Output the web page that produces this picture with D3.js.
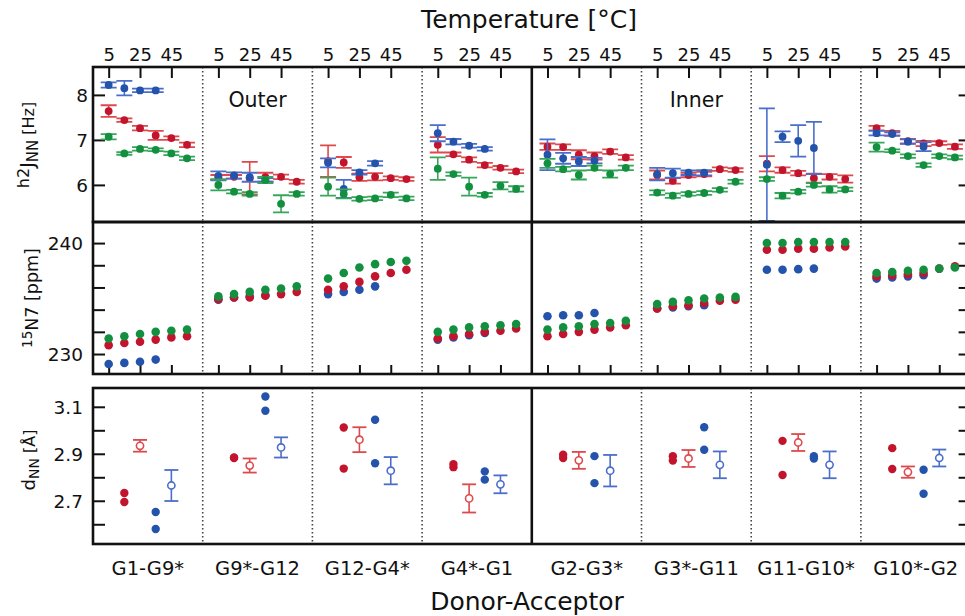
<!DOCTYPE html>
<html>
<head>
<meta charset="utf-8">
<script src="https://cdn.jsdelivr.net/npm/d3@7"></script>
<style>
  body { margin: 0; background: #fff; }
  svg { font-family: "DejaVu Sans", sans-serif; display: block; }
</style>
</head>
<body>
<script>
// ---- data ----
var groups = ["G1-G9*", "G9*-G12", "G12-G4*", "G4*-G1", "G2-G3*", "G3*-G11", "G11-G10*", "G10*-G2"];
var temps = [5, 15, 25, 35, 45, 55];
var tempTicks = [5, 25, 45];

// h2J_NN [Hz]
var jBlue = [[8.22, 8.15, 8.10, 8.10], [6.20, 6.21, 6.17, 6.11], [6.49, 5.91, 6.28, 6.48], [7.15, 6.96, 6.87, 6.80],
             [6.67, 6.59, 6.52, 6.54], [6.24, 6.26, 6.27, 6.27], [6.45, 7.07, 6.98, 6.82], [7.15, 7.13, 6.96, 6.85]];
var jBlueErr = [[0.06, 0.16, 0.04, 0.04], [0.10, 0.07, 0.10, 0.04], [0.10, 0.20, 0.05, 0.05], [0.18, 0.06, 0.04, 0.04],
                [0.34, 0.12, 0.10, 0.06], [0.14, 0.10, 0.05, 0.06], [1.25, 0.12, 0.35, 0.58], [0.05, 0.04, 0.05, 0.10]];
var jRed = [[7.64, 7.44, 7.26, 7.10, 7.04, 6.89], [6.17, 6.18, 6.15, 6.17, 6.18, 6.07], [6.53, 6.50, 6.17, 6.18, 6.15, 6.13],
            [6.89, 6.68, 6.56, 6.44, 6.38, 6.30], [6.85, 6.84, 6.67, 6.64, 6.74, 6.61], [6.22, 6.09, 6.22, 6.24, 6.35, 6.33],
            [6.47, 6.33, 6.26, 6.15, 6.18, 6.13], [7.26, 7.15, 6.97, 6.92, 6.93, 6.85]];
var jRedErr = [[0.13, 0.04, 0.05, 0.10, 0.04, 0.05], [0.05, 0.04, 0.36, 0.10, 0.05, 0.04], [0.35, 0.12, 0.08, 0.08, 0.04, 0.04],
               [0.17, 0.04, 0.05, 0.05, 0.04, 0.04], [0.07, 0.06, 0.10, 0.08, 0.05, 0.05], [0.10, 0.06, 0.05, 0.05, 0.04, 0.04],
               [0.17, 0.06, 0.05, 0.10, 0.06, 0.08], [0.05, 0.05, 0.05, 0.06, 0.04, 0.05]];
var jGreen = [[7.07, 6.70, 6.80, 6.78, 6.70, 6.59], [6.00, 5.85, 5.80, 6.11, 5.58, 5.80], [5.96, 5.80, 5.69, 5.70, 5.78, 5.70],
              [6.36, 6.24, 5.96, 5.78, 5.98, 5.91], [6.48, 6.35, 6.22, 6.38, 6.24, 6.38], [5.83, 5.76, 5.80, 5.82, 5.89, 6.07],
              [6.13, 5.76, 5.85, 6.00, 5.90, 5.90], [6.84, 6.76, 6.64, 6.44, 6.64, 6.61]];
var jGreenErr = [[0.06, 0.03, 0.04, 0.03, 0.04, 0.04], [0.12, 0.04, 0.04, 0.07, 0.19, 0.04], [0.20, 0.10, 0.04, 0.04, 0.05, 0.04],
                 [0.25, 0.04, 0.20, 0.04, 0.08, 0.06], [0.10, 0.05, 0.10, 0.05, 0.08, 0.05], [0.05, 0.05, 0.04, 0.04, 0.04, 0.04],
                 [0.04, 0.06, 0.04, 0.04, 0.07, 0.04], [0.10, 0.03, 0.04, 0.04, 0.04, 0.04]];

// 15N7 [ppm]
var nBlue = [[229.1, 229.2, 229.3, 229.5], [234.9, 235.1, 235.2, 235.3], [235.4, 235.6, 235.8, 236.1], [231.3, 231.5, 231.7, 231.9],
             [233.4, 233.5, 233.5, 233.7], [234.1, 234.2, 234.3, 234.4], [237.6, 237.6, 237.65, 237.7], [236.8, 236.9, 237.0, 237.1]];
var nRed = [[230.8, 231.0, 231.1, 231.3, 231.5, 231.6], [234.95, 235.1, 235.1, 235.25, 235.4, 235.6], [235.8, 236.1, 236.5, 237.0, 237.3, 237.6],
            [231.4, 231.6, 231.8, 232.0, 232.1, 232.3], [231.6, 231.8, 232.0, 232.2, 232.4, 232.6], [234.1, 234.3, 234.4, 234.6, 234.8, 234.9],
            [239.4, 239.4, 239.5, 239.5, 239.6, 239.7], [237.0, 237.1, 237.2, 237.3, 237.7, 237.9]];
var nGreen = [[231.4, 231.6, 231.8, 232.0, 232.1, 232.2], [235.2, 235.4, 235.6, 235.8, 235.9, 236.1], [236.8, 237.3, 237.8, 238.1, 238.3, 238.4],
              [232.0, 232.2, 232.4, 232.5, 232.6, 232.7], [232.2, 232.4, 232.5, 232.7, 232.8, 233.0], [234.5, 234.7, 234.85, 235.0, 235.1, 235.15],
              [240.0, 240.0, 240.1, 240.1, 240.1, 240.1], [237.3, 237.4, 237.5, 237.6, 237.7, 237.8]];

// d_NN [Å]
var dRedFilled = [[2.733, 2.695], [2.884, 2.882], [3.012, 2.837], [2.856, 2.843], [2.896, 2.882], [2.890, 2.871], [2.955, 2.810], [2.924, 2.835]];
var dRedMean = [2.934, 2.850, 2.960, 2.710, 2.872, 2.880, 2.948, 2.822];
var dRedErr = [0.025, 0.030, 0.053, 0.060, 0.036, 0.036, 0.036, 0.024];
var dBlueFilled = [[2.652, 2.580], [3.144, 3.083], [3.045, 2.860], [2.825, 2.790], [2.890, 2.775], [3.013, 2.917], [2.890, 2.880], [2.832, 2.730]];
var dBlueMean = [2.765, 2.927, 2.828, 2.770, 2.828, 2.853, 2.853, 2.882];
var dBlueErr = [0.066, 0.043, 0.058, 0.038, 0.067, 0.057, 0.057, 0.036];

// ---- layout ----
var width = 965, height = 616;
var left = 93, groupW = 109.7, right = left + groups.length * groupW;
var topP = { y0: 67, y1: 222 }, midP = { y0: 222, y1: 374 }, botP = { y0: 388, y1: 544 };

var col = {
    blue: "#2453ab", blueErr: "#4b6ecb",
    red: "#c3142e", redErr: "#dc4a4d",
    green: "#12903f", greenErr: "#36a65b"
};

var svg = d3.select("body").append("svg")
    .attr("width", width)
    .attr("height", height);

var xGroup = d3.scaleBand().domain(groups).range([left, right]);
var xTemp = d3.scaleLinear().domain([-5, 65]).range([0, xGroup.bandwidth()]);
function gx(gi, t) { return xGroup(groups[gi]) + xTemp(t); }

var yJ = d3.scaleLinear().domain([5.176, 8.62]).range([topP.y1, topP.y0]);
var yN = d3.scaleLinear().domain([228.2, 241.9]).range([midP.y1, midP.y0]);
var yD = d3.scaleLinear().domain([2.516, 3.18]).range([botP.y1, botP.y0]);

// clip for the coupling panel (one error bar runs off the bottom)
svg.append("clipPath").attr("id", "topclip").append("rect")
    .attr("x", left).attr("y", topP.y0).attr("width", right - left).attr("height", topP.y1 - topP.y0);

// group separators
[topP, midP, botP].forEach(function(p) {
    groups.forEach(function(g, i) {
        if (i === 0) return;
        var x = xGroup(g);
        svg.append("line")
            .attr("x1", x).attr("x2", x)
            .attr("y1", p.y0).attr("y2", p.y1)
            .attr("stroke", i === 4 ? "#111" : "#444")
            .attr("stroke-width", i === 4 ? 2.6 : 1.6)
            .attr("stroke-dasharray", i === 4 ? null : "1.6,2.4");
    });
});

// y axes, ticks pointing inward on both sides
function yAxes(scale, ticks, labels, fmt, labelX) {
    var ax = svg.append("g")
        .attr("transform", "translate(" + left + ",0)")
        .call(d3.axisLeft(scale).tickValues(ticks).tickSizeInner(-12).tickSizeOuter(0)
            .tickPadding(0).tickFormat(function(d) { return labels.indexOf(d) >= 0 ? fmt(d) : ""; }));
    ax.select(".domain").remove();
    ax.selectAll(".tick line").attr("stroke", "#111").attr("stroke-width", 2);
    ax.selectAll(".tick text")
        .attr("x", labelX - left)
        .attr("dy", "0.36em")
        .attr("fill", "#111")
        .style("font-size", "18.5px")
        .style("font-family", "DejaVu Sans");
    var ax2 = svg.append("g")
        .attr("transform", "translate(" + right + ",0)")
        .call(d3.axisLeft(scale).tickValues(ticks).tickSizeInner(12).tickSizeOuter(0).tickFormat(""));
    ax2.select(".domain").remove();
    ax2.selectAll(".tick line").attr("stroke", "#111").attr("stroke-width", 2);
}
yAxes(yJ, [6, 7, 8], [6, 7, 8], d3.format("d"), 88);
yAxes(yN, [230, 232, 234, 236, 238, 240], [230, 240], d3.format("d"), 83);
yAxes(yD, [2.6, 2.7, 2.8, 2.9, 3.0, 3.1], [2.7, 2.9, 3.1], d3.format(".1f"), 83);

// temperature ticks: top of first panel (labelled), bottom of second panel
groups.forEach(function(g, i) {
    var sub = d3.scaleLinear().domain(xTemp.domain()).range([xGroup(g), xGroup(g) + xGroup.bandwidth()]);
    var at = svg.append("g")
        .attr("transform", "translate(0," + topP.y0 + ")")
        .call(d3.axisTop(sub).tickValues(tempTicks).tickSizeInner(-11).tickSizeOuter(0).tickPadding(6));
    at.select(".domain").remove();
    at.selectAll(".tick line").attr("stroke", "#111").attr("stroke-width", 2);
    at.selectAll(".tick text")
        .attr("y", -6)
        .attr("fill", "#111")
        .style("font-size", "18px")
        .style("font-family", "DejaVu Sans");
    var ab = svg.append("g")
        .attr("transform", "translate(0," + midP.y1 + ")")
        .call(d3.axisBottom(sub).tickValues(tempTicks).tickSizeInner(-9).tickSizeOuter(0).tickFormat(""));
    ab.select(".domain").remove();
    ab.selectAll(".tick line").attr("stroke", "#111").attr("stroke-width", 2);
});

// error bars + dots for the temperature series
function series(data, errs, yScale, dot, errCol, r, cap, clip) {
    var g = svg.append("g");
    if (clip) g.attr("clip-path", "url(#" + clip + ")");
    data.forEach(function(vals, gi) {
        vals.forEach(function(v, k) {
            var x = gx(gi, temps[k]);
            if (errs) {
                var e = errs[gi][k];
                var y1 = yScale(v - e), y2 = yScale(v + e);
                g.append("line").attr("x1", x).attr("x2", x).attr("y1", y1).attr("y2", y2)
                    .attr("stroke", errCol).attr("stroke-width", 1.6);
                [y1, y2].forEach(function(yy) {
                    g.append("line").attr("x1", x - cap).attr("x2", x + cap).attr("y1", yy).attr("y2", yy)
                        .attr("stroke", errCol).attr("stroke-width", 1.8);
                });
            }
            g.append("circle").attr("cx", x).attr("cy", yScale(v)).attr("r", r).attr("fill", dot);
        });
    });
}

series(jRed, jRedErr, yJ, col.red, col.redErr, 3.9, 8, "topclip");
series(jBlue, jBlueErr, yJ, col.blue, col.blueErr, 3.9, 8, "topclip");
series(jGreen, jGreenErr, yJ, col.green, col.greenErr, 3.9, 8, "topclip");

series(nBlue, null, yN, col.blue, null, 4.3, 0);
series(nRed, null, yN, col.red, null, 4.3, 0);
series(nGreen, null, yN, col.green, null, 4.3, 0);

// distances: filled points at slot 15, mean+sd at slot 25 (red) / 35 filled, 45 mean (blue)
function distGroup(filled, mean, err, slotF, slotM, dot, errCol) {
    var g = svg.append("g");
    filled.forEach(function(vals, gi) {
        vals.forEach(function(v) {
            g.append("circle").attr("cx", gx(gi, slotF)).attr("cy", yD(v)).attr("r", 4.2).attr("fill", dot);
        });
    });
    mean.forEach(function(v, gi) {
        var x = gx(gi, slotM), y1 = yD(v - err[gi]), y2 = yD(v + err[gi]);
        g.append("line").attr("x1", x).attr("x2", x).attr("y1", y1).attr("y2", y2)
            .attr("stroke", errCol).attr("stroke-width", 1.6);
        [y1, y2].forEach(function(yy) {
            g.append("line").attr("x1", x - 7).attr("x2", x + 7).attr("y1", yy).attr("y2", yy)
                .attr("stroke", errCol).attr("stroke-width", 1.8);
        });
        g.append("circle").attr("cx", x).attr("cy", yD(v)).attr("r", 3.6)
            .attr("fill", "#fff").attr("stroke", errCol).attr("stroke-width", 1.6);
    });
}
distGroup(dRedFilled, dRedMean, dRedErr, 15, 25, col.red, col.redErr);
distGroup(dBlueFilled, dBlueMean, dBlueErr, 35, 45, col.blue, col.blueErr);

// panel frames
[topP, midP, botP].forEach(function(p) {
    svg.append("rect")
        .attr("x", left).attr("y", p.y0)
        .attr("width", right - left).attr("height", p.y1 - p.y0)
        .attr("fill", "none").attr("stroke", "#111").attr("stroke-width", 2.6);
});

// labels
svg.append("text").attr("x", 529).attr("y", 28).attr("text-anchor", "middle")
    .style("font-size", "25px").attr("fill", "#111").text("Temperature [°C]");
svg.append("text").attr("x", 527).attr("y", 610).attr("text-anchor", "middle")
    .style("font-size", "25px").attr("fill", "#111").text("Donor-Acceptor");
svg.append("text").attr("x", xGroup(groups[1]) + xGroup.bandwidth() / 2).attr("y", 107).attr("text-anchor", "middle")
    .style("font-size", "20.5px").attr("fill", "#111").text("Outer");
svg.append("text").attr("x", xGroup(groups[5]) + xGroup.bandwidth() / 2).attr("y", 107).attr("text-anchor", "middle")
    .style("font-size", "20.5px").attr("fill", "#111").text("Inner");

svg.append("g").selectAll("text")
    .data(groups)
    .enter().append("text")
    .attr("x", d => xGroup(d) + xGroup.bandwidth() / 2)
    .attr("y", 575)
    .attr("text-anchor", "middle")
    .style("font-size", "19.5px")
    .attr("fill", "#111")
    .text(d => d);

// rotated y titles with super/subscripts
function yTitle(cx, cy, parts) {
    var t = svg.append("text")
        .attr("transform", "translate(" + cx + "," + cy + ") rotate(-90)")
        .attr("text-anchor", "middle")
        .attr("fill", "#111");
    parts.forEach(function(p) {
        t.append("tspan").attr("dy", p[2]).style("font-size", p[1] + "px").text(p[0]);
    });
}
yTitle(34, 145, [["h2", 16, -5], ["J", 19, 5], ["NN", 15, 4], [" [Hz]", 16, -4]]);
yTitle(38, 298, [["15", 13.5, -6], ["N7 [ppm]", 17.5, 6]]);
yTitle(35, 460, [["d", 18, 0], ["NN", 14, 4], [" [Å]", 16, -4]]);
</script>
</body>
</html>
